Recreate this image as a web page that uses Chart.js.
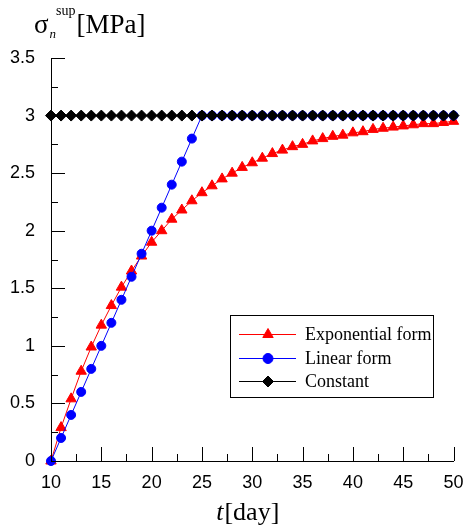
<!DOCTYPE html>
<html>
<head>
<meta charset="utf-8">
<script src="https://cdn.jsdelivr.net/npm/chart.js@4.4.1/dist/chart.umd.min.js"></script>
<style>
html,body{margin:0;padding:0;background:#fff;}
canvas{display:block;}
</style>
</head>
<body>
<canvas id="c" width="465" height="526"></canvas>
<script>
// ---- data ----
const days = [10,11,12,13,14,15,16,17,18,19,20,21,22,23,24,25,26,27,28,29,30,
              31,32,33,34,35,36,37,38,39,40,41,42,43,44,45,46,47,48,49,50];
const exponentialForm = [0.00,0.29,0.54,0.78,0.99,1.18,1.35,1.51,1.65,1.78,1.90,
  2.00,2.10,2.18,2.26,2.33,2.39,2.45,2.50,2.55,2.59,2.63,2.67,2.70,2.73,2.75,
  2.78,2.80,2.82,2.83,2.85,2.86,2.88,2.89,2.90,2.91,2.92,2.93,2.93,2.94,2.95];
const linearForm = [0.0,0.2,0.4,0.6,0.8,1.0,1.2,1.4,1.6,1.8,2.0,2.2,2.4,2.6,2.8,3.0,
  3.0,3.0,3.0,3.0,3.0,3.0,3.0,3.0,3.0,3.0,3.0,3.0,3.0,3.0,3.0,3.0,3.0,3.0,3.0,3.0,
  3.0,3.0,3.0,3.0,3.0];
const constantForm = [3,3,3,3,3,3,3,3,3,3,3,3,3,3,3,3,3,3,3,3,3,
  3,3,3,3,3,3,3,3,3,3,3,3,3,3,3,3,3,3,3,3];
const seriesNames = ["Exponential form","Linear form","Constant"];
const xTicks = [10,15,20,25,30,35,40,45,50];
const xMinorTicks = [12.5,17.5,22.5,27.5,32.5,37.5,42.5,47.5];
const yTicks = [0,0.5,1,1.5,2,2.5,3,3.5];
const yTickLabels = ["0","0.5","1","1.5","2","2.5","3","3.5"];
const yMinorTicks = [0.25,0.75,1.25,1.75,2.25,2.75,3.25];

const toPts = arr => days.map((d,i)=>({x:d,y:arr[i]}));

const innerTicks = {
  id:'innerTicks',
  afterDraw(chart){
    const ctx = chart.ctx, xs = chart.scales.x, ys = chart.scales.y;
    const a = chart.chartArea;
    ctx.save();
    ctx.strokeStyle = '#000'; ctx.lineWidth = 1;
    ctx.beginPath();
    xTicks.forEach(v=>{const p=Math.round(xs.getPixelForValue(v))+0.5; ctx.moveTo(p,a.bottom); ctx.lineTo(p,a.bottom-14);});
    xMinorTicks.forEach(v=>{const p=Math.round(xs.getPixelForValue(v))+0.5; ctx.moveTo(p,a.bottom); ctx.lineTo(p,a.bottom-7);});
    yTicks.forEach(v=>{const p=Math.round(ys.getPixelForValue(v))+0.5; ctx.moveTo(a.left,p); ctx.lineTo(a.left+14,p);});
    yMinorTicks.forEach(v=>{const p=Math.round(ys.getPixelForValue(v))+0.5; ctx.moveTo(a.left,p); ctx.lineTo(a.left+7,p);});
    ctx.stroke();
    ctx.restore();
  }
};

function marker(ctx, style, x, y, r, color){
  ctx.save();
  ctx.fillStyle = color; ctx.strokeStyle = color; ctx.lineWidth = 1;
  ctx.beginPath();
  if(style==='triangle'){
    for(let k=0;k<3;k++){const ang=k*2*Math.PI/3; const px=x+Math.sin(ang)*r, py=y-Math.cos(ang)*r; k?ctx.lineTo(px,py):ctx.moveTo(px,py);}
    ctx.closePath();
  } else if(style==='circle'){
    ctx.arc(x,y,r,0,2*Math.PI);
  } else {
    ctx.moveTo(x,y-r); ctx.lineTo(x+r,y); ctx.lineTo(x,y+r); ctx.lineTo(x-r,y); ctx.closePath();
  }
  ctx.fill(); ctx.stroke();
  ctx.restore();
}

const textPlugin = {
  id:'texts',
  afterDraw(chart){
    const ctx = chart.ctx, a = chart.chartArea;
    ctx.save();
    ctx.fillStyle = '#000';
    ctx.textBaseline = 'alphabetic';
    ctx.textAlign = 'left';
    // y title
    let x = 34;
    ctx.font = '27px "Liberation Serif"';
    ctx.fillText('σ', x, 33); x += ctx.measureText('σ').width + 1;
    ctx.font = 'italic 13px "Liberation Serif"';
    ctx.fillText('n', x, 38); x += ctx.measureText('n').width;
    ctx.font = '14px "Liberation Serif"';
    ctx.fillText('sup', x, 15); x += ctx.measureText('sup').width + 1;
    ctx.font = '27px "Liberation Serif"';
    ctx.fillText('[MPa]', x, 33);
    // x title
    ctx.font = 'italic 26px "Liberation Serif"';
    const tw = ctx.measureText('t').width;
    ctx.font = '26px "Liberation Serif"';
    const dw = ctx.measureText('[day]').width;
    let sx = (a.left + a.right)/2 - (tw + dw)/2 - 5;
    ctx.font = 'italic 26px "Liberation Serif"';
    ctx.fillText('t', sx, 520);
    ctx.font = '26px "Liberation Serif"';
    ctx.fillText('[day]', sx + tw + 1, 520);
    // legend
    const bx = 230.5, by = 315.5, bw = 203, bh = 82;
    ctx.fillStyle = '#fff';
    ctx.fillRect(bx, by, bw, bh);
    ctx.strokeStyle = '#000'; ctx.lineWidth = 1;
    ctx.strokeRect(bx, by, bw, bh);
    const rows = [334, 358, 381];
    const colors = ['#ff0000','#0000ff','#000000'];
    const styles = ['triangle','circle','diamond'];
    const radii = [6,5,5.5];
    ctx.font = '18px "Liberation Serif"';
    ctx.textBaseline = 'middle';
    rows.forEach((ry,i)=>{
      ctx.strokeStyle = colors[i];
      ctx.beginPath(); ctx.moveTo(239, ry+0.5); ctx.lineTo(296, ry+0.5); ctx.stroke();
      marker(ctx, styles[i], 268, ry+0.5, radii[i], colors[i]);
      ctx.fillStyle = '#000';
      ctx.fillText(seriesNames[i], 305, ry+1);
    });
    ctx.restore();
  }
};

new Chart(document.getElementById('c'), {
  type:'line',
  data:{
    datasets:[
      {label:seriesNames[0], data:toPts(exponentialForm), borderColor:'#ff0000', backgroundColor:'#ff0000',
       pointStyle:'triangle', pointRadius:6, pointBorderWidth:1, pointBorderColor:'#ff0000', pointBackgroundColor:'#ff0000',
       borderWidth:1, tension:0, order:2, clip:false},
      {label:seriesNames[1], data:toPts(linearForm), borderColor:'#0000ff', backgroundColor:'#0000ff',
       pointStyle:'circle', pointRadius:4.5, pointBorderWidth:1, pointBorderColor:'#0000ff', pointBackgroundColor:'#0000ff',
       borderWidth:1, tension:0, order:1, clip:false},
      {label:seriesNames[2], data:toPts(constantForm), borderColor:'#000000', backgroundColor:'#000000',
       pointStyle:'rectRot', pointRadius:5.5, pointBorderWidth:1, pointBorderColor:'#000000', pointBackgroundColor:'#000000',
       borderWidth:1, tension:0, order:0, clip:false}
    ]
  },
  options:{
    responsive:false,
    animation:false,
    devicePixelRatio:1,
    layout:{padding:{left:0, top:58, right:11.5, bottom:0}},
    plugins:{legend:{display:false}, tooltip:{enabled:false}},
    scales:{
      x:{type:'linear', min:10, max:50,
         afterBuildTicks: s => { s.ticks = xTicks.map(v=>({value:v})); },
         afterFit: s => { s.height = 65; s.paddingLeft = 0; s.paddingRight = 0; },
         grid:{display:false, drawTicks:false},
         border:{display:true, color:'#000', width:1},
         ticks:{padding:11, color:'#000', font:{family:'"Liberation Sans"', size:18}, maxRotation:0, autoSkip:false}
      },
      y:{type:'linear', min:0, max:3.5,
         afterBuildTicks: s => { s.ticks = yTicks.map(v=>({value:v})); },
         afterFit: s => { s.width = 51; s.paddingTop = 0; s.paddingBottom = 0; },
         grid:{display:false, drawTicks:false},
         border:{display:true, color:'#000', width:1},
         ticks:{padding:16, color:'#000', font:{family:'"Liberation Sans"', size:18},
                callback: (v, i) => yTickLabels[i]}
      }
    }
  },
  plugins:[innerTicks, textPlugin]
});
</script>
</body>
</html>
